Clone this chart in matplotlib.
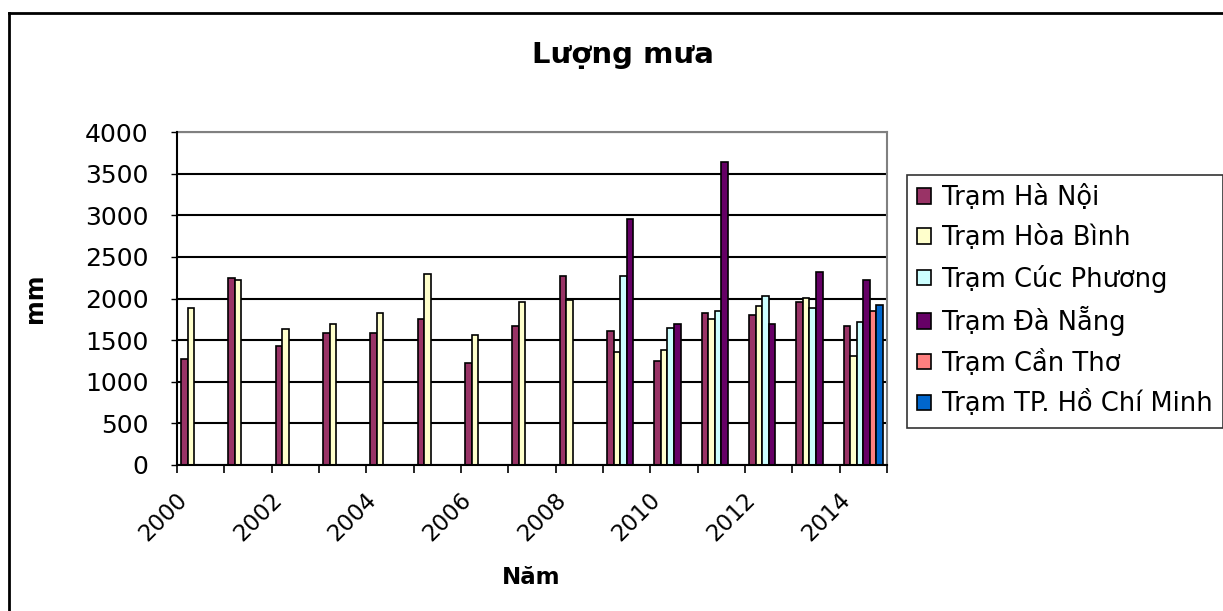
import numpy as np
import matplotlib
matplotlib.use("Agg")
import matplotlib.pyplot as plt
from matplotlib.patches import Patch
from matplotlib.lines import Line2D
from matplotlib.transforms import ScaledTranslation

years = list(range(2000, 2015))
nan = np.nan
ha_noi = [1273, 2250, 1430, 1582, 1582, 1758, 1229, 1670, 2270, 1606, 1249, 1830, 1806, 1962, 1670]
hoa_binh = [1890, 2226, 1630, 1698, 1830, 2290, 1558, 1958, 1978, 1361, 1385, 1754, 1914, 2002, 1313]
cuc_phuong = [nan]*9 + [2274, 1650, 1846, 2030, 1890, 1718]
da_nang = [nan]*9 + [2959, 1694, 3643, 1694, 2314, 2222]
can_tho = [nan]*14 + [1846]
hcm = [nan]*14 + [1918]

series = [ha_noi, hoa_binh, cuc_phuong, da_nang, can_tho, hcm]
names = ["Trạm Hà Nội", "Trạm Hòa Bình", "Trạm Cúc Phương", "Trạm Đà Nẵng",
         "Trạm Cần Thơ", "Trạm TP. Hồ Chí Minh"]
colors = ["#993366", "#FFFFCC", "#CCFFFF", "#660066", "#FF8080", "#0066CC"]
tick_labels = [str(y) if (y % 2 == 0) else "" for y in years]

plt.rcParams['font.family'] = ['DejaVu Sans']

W, H = 1223, 611
fig = plt.figure(figsize=(W/100, H/100), dpi=100)
ax = fig.add_axes([177/W, 1-465/H, (887-177)/W, (465-132)/H])

n = len(series)
bw = 0.1375
x = np.arange(len(years))
for i, (vals, c) in enumerate(zip(series, colors)):
    off = (i - (n-1)/2) * bw
    ax.bar(x + 0.5 + off, vals, width=bw, color=c, edgecolor="black", linewidth=1.2, zorder=3)

ax.set_xlim(0, len(years))
ax.set_ylim(0, 4000)
ax.set_yticks(np.arange(0, 4001, 500))
ax.tick_params(axis='y', labelsize=18, length=4.5, width=1, direction='out', pad=16, colors='black')
ax.set_xticks(np.arange(0, len(years)+1))
ax.set_xticklabels([])
ax.tick_params(axis='x', which='major', length=6, width=1.2, direction='out')
ax.set_xticks(x + 0.5, minor=True)
ax.set_xticklabels(tick_labels, minor=True, rotation=45, ha='right', rotation_mode='anchor', fontsize=16.5)
ax.tick_params(axis='x', which='minor', length=0, pad=17)
shift = ScaledTranslation(-25/100, 0, fig.dpi_scale_trans)
for lab in ax.get_xticklabels(minor=True):
    lab.set_transform(lab.get_transform() + shift)
ax.grid(axis='y', color='black', linewidth=1.5, zorder=1)
for s in ['top', 'right']:
    ax.spines[s].set_color('#808080')
    ax.spines[s].set_linewidth(1.5)
for s in ['left', 'bottom']:
    ax.spines[s].set_color('black')
    ax.spines[s].set_linewidth(1.5)
    ax.spines[s].set_zorder(4)

fig.text(623/W, 1-55/H, "Lượng mưa", ha='center', va='center', fontsize=21, fontweight='bold')
fig.text(35/W, 1-298/H, "mm", ha='center', va='center', rotation=90, fontsize=17, fontweight='bold')
fig.text(531/W, 1-578/H, "Năm", ha='center', va='center', fontsize=16.5, fontweight='bold')

handles = [Patch(facecolor=c, edgecolor='black', linewidth=1.2) for c in colors]
leg = fig.legend(handles, names, loc='upper left', bbox_to_anchor=(907/W, 1-175/H),
                 fontsize=18.5, frameon=True, fancybox=False, edgecolor='black',
                 handlelength=0.55, handleheight=0.55, handletextpad=0.4,
                 labelspacing=0.53, borderpad=0.4, borderaxespad=0)
leg.get_frame().set_linewidth(1.2)

fig.add_artist(Line2D([9/W, 9/W], [0, 1-13/H], color='black', linewidth=2, transform=fig.transFigure))
fig.add_artist(Line2D([9/W, 1], [1-13/H, 1-13/H], color='black', linewidth=2, transform=fig.transFigure))

fig.savefig("out.png", dpi=100)
